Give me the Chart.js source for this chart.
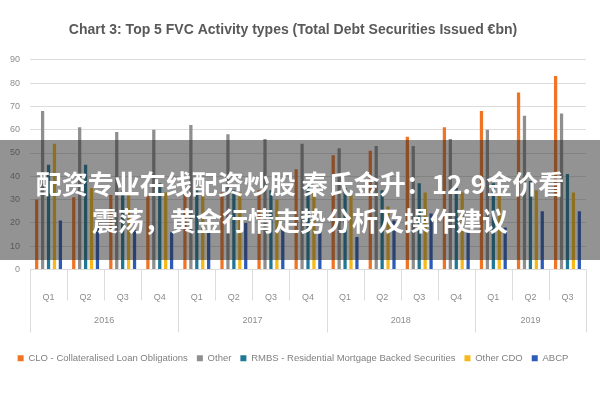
<!DOCTYPE html>
<html>
<head>
<meta charset="utf-8">
<script src="https://cdn.jsdelivr.net/npm/chart.js@4"></script>
<style>
    html, body { margin: 0; padding: 0; background: #fff; }
    #wrap { position: relative; width: 600px; height: 400px; }
    #banner {
        position: absolute; left: 0; top: 140px; width: 600px; height: 120px;
        background: rgba(40, 40, 40, 0.5);
        color: #fff; text-align: center;
        font-family: "Noto Sans CJK SC", sans-serif; font-weight: bold;
        font-size: 26px; line-height: 37px;
        padding-top: 24px; box-sizing: border-box;
    }
</style>
</head>
<body>
<div id="wrap">
    <canvas id="chart" width="600" height="400"></canvas>
    <div id="banner">配资专业在线配资炒股 秦氏金升：12.9金价看<br>震荡，黄金行情走势分析及操作建议</div>
</div>
<script>
const quarters = ["Q1", "Q2", "Q3", "Q4", "Q1", "Q2", "Q3", "Q4", "Q1", "Q2", "Q3", "Q4", "Q1", "Q2", "Q3"];
const years = ["2016", "2016", "2016", "2016", "2017", "2017", "2017", "2017", "2018", "2018", "2018", "2018", "2019", "2019", "2019"];

const clo = [30, 31, 32, 32, 33, 33, 34, 43, 49, 51, 57, 61, 68, 76, 83];
const other = [68, 61, 59, 60, 62, 58, 56, 54, 52, 53, 53, 56, 60, 66, 67];
const rmbs = [45, 45, 34, 37, 35, 34, 34, 38, 35, 34, 37, 35, 37, 38, 41];
const otherCdo = [54, 35, 32, 33, 33, 33, 30, 33, 32, 27, 33, 33, 33, 34, 33];
const abcp = [21, 18, 17, 16, 18, 20, 17, 17, 14, 21, 24, 16, 18, 25, 25];

const FONT = "'Liberation Sans', Arial, sans-serif";
const GRID = "#dcdcdc";
const TXT = "#8c8c8c";

// year row + category separators under the x axis
const yearAxis = {
    id: "yearAxis",
    afterDraw(chart) {
        const ctx = chart.ctx;
        const x = chart.scales.x;
        const top = chart.chartArea.bottom;
        const half = (x.getPixelForValue(1) - x.getPixelForValue(0)) / 2;

        ctx.save();
        ctx.strokeStyle = GRID;
        ctx.lineWidth = 1;
        ctx.fillStyle = TXT;
        ctx.font = "9px " + FONT;
        ctx.textAlign = "center";
        ctx.textBaseline = "middle";

        let start = 0;
        for (let i = 0; i <= years.length; i++) {
            const px = Math.round(x.getPixelForValue(i) - half) + 0.5;
            const newYear = i === 0 || i === years.length || years[i] !== years[i - 1];
            ctx.beginPath();
            ctx.moveTo(px, top);
            ctx.lineTo(px, top + (newYear ? 63 : 31));
            ctx.stroke();

            if (newYear && i > 0) {
                const a = x.getPixelForValue(start) - half;
                const b = x.getPixelForValue(i - 1) + half;
                ctx.fillText(years[i - 1], (a + b) / 2, top + 51);
                start = i;
            }
        }
        ctx.restore();
    }
};

function series(label, data, color) {
    return {
        label: label,
        data: data,
        backgroundColor: color,
        borderWidth: 0,
        barPercentage: 0.55,
        categoryPercentage: 0.8
    };
}

new Chart(document.getElementById("chart"), {
    type: "bar",
    data: {
        labels: quarters,
        datasets: [
            series("CLO - Collateralised Loan Obligations", clo, "#f07424"),
            series("Other", other, "#8f8f8f"),
            series("RMBS - Residential Mortgage Backed Securities", rmbs, "#1f7896"),
            series("Other CDO", otherCdo, "#f7b81a"),
            series("ABCP", abcp, "#2c5bb8")
        ]
    },
    options: {
        responsive: false,
        animation: false,
        layout: { padding: { left: 0, right: 14, top: 0, bottom: 27 } },
        plugins: {
            title: {
                display: true,
                text: "Chart 3: Top 5 FVC Activity types (Total Debt Securities Issued €bn)",
                color: "#595959",
                font: { family: FONT, size: 14, weight: "bold" },
                padding: { top: 22, bottom: 21 }
            },
            legend: {
                position: "bottom",
                labels: {
                    boxWidth: 6,
                    boxHeight: 6,
                    padding: 9,
                    color: "#7f7f7f",
                    font: { family: FONT, size: 9.5 }
                }
            },
            tooltip: { enabled: false }
        },
        scales: {
            x: {
                grid: { display: false },
                border: { display: false },
                ticks: { color: TXT, font: { family: FONT, size: 9 }, padding: 15 },
                afterFit(scale) { scale.height = 75; }
            },
            y: {
                min: 0,
                max: 90,
                ticks: { stepSize: 10, color: TXT, font: { family: FONT, size: 9 }, padding: 10 },
                grid: { color: GRID, drawTicks: false },
                border: { display: false },
                afterFit(scale) { scale.width = 30; }
            }
        }
    },
    plugins: [yearAxis]
});
</script>
</body>
</html>
